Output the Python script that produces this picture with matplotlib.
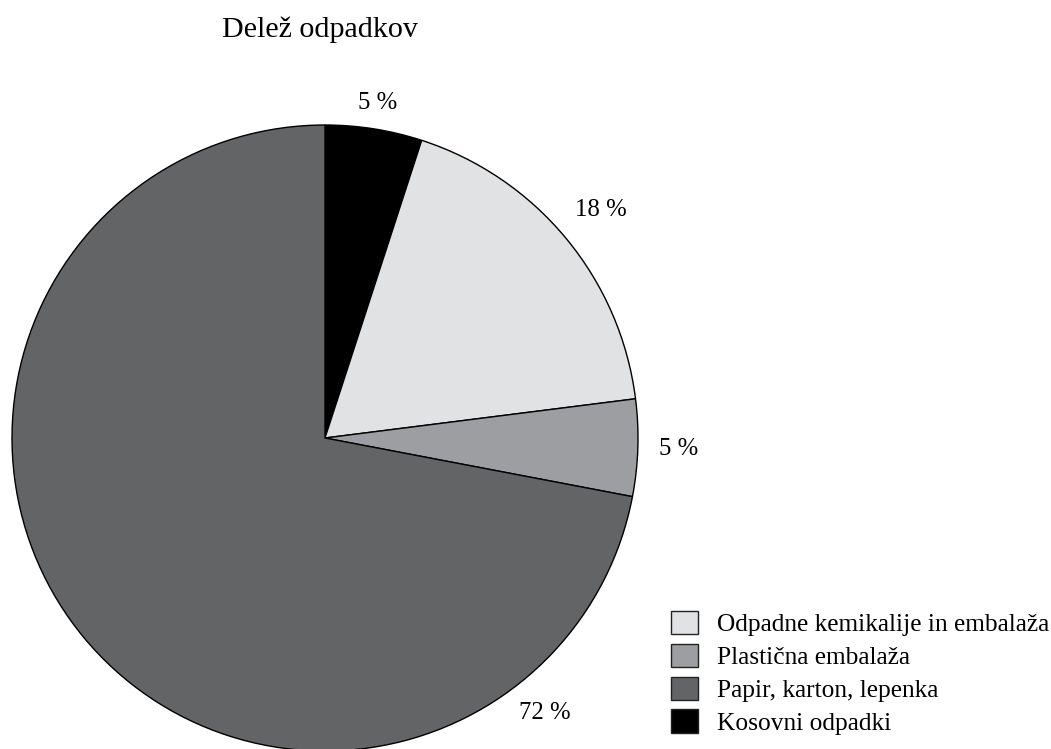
import numpy as np
import matplotlib.pyplot as plt
from matplotlib.patches import Patch

plt.rcParams['font.family'] = ['Liberation Serif', 'DejaVu Serif']

# podatki (v smeri urinega kazalca od vrha)
kategorije = ["Kosovni odpadki", "Odpadne kemikalije in embalaža",
              "Plastična embalaža", "Papir, karton, lepenka"]
delezi = [5, 18, 5, 72]
barve = ["#000000", "#e1e2e4", "#9d9ea1", "#636466"]
oznake = ["5 %", "18 %", "5 %", "72 %"]
# vrstni red v legendi
legenda_red = [1, 2, 3, 0]

W, H = 1051, 749
cx, cy, R = 325, 438, 313

fig = plt.figure(figsize=(W / 100, H / 100), dpi=100)
ax = fig.add_axes([0, 0, 1, 1])

wedges, _ = ax.pie(delezi, colors=barve, startangle=90, counterclock=False,
                   radius=1, center=(0, 0), frame=True,
                   wedgeprops=dict(edgecolor='black', linewidth=1.0))
ax.set_xlim(-cx / R, (W - cx) / R)
ax.set_ylim(-(H - cy) / R, cy / R)
ax.axis('off')

# kot oznake (stopinje od vrha, v smeri urinega kazalca)
kumul = np.cumsum([0] + delezi[:-1])
koti = [(k + d / 2) / 100 * 360 for k, d in zip(kumul, delezi)]
koti[3] = 141.3
razdalje = [1.083, 1.143, 1.13, 1.125]
for txt, kot, r in zip(oznake, koti, razdalje):
    a = np.deg2rad(kot)
    ax.text(r * np.sin(a), r * np.cos(a), txt, ha='center', va='center',
            fontsize=17.8)

ax.text(-5 / R, (cy - 30) / R, "Delež odpadkov", ha='center', va='center',
        fontsize=21.6)

handles = [Patch(facecolor=barve[i], edgecolor='#222222', linewidth=1.0)
           for i in legenda_red]
labels = [kategorije[i] for i in legenda_red]
fig.legend(handles, labels, loc='lower left', bbox_to_anchor=(671 / W, 14 / H),
           frameon=False, fontsize=18.3, handlelength=1.06, handleheight=1.06,
           handletextpad=0.75, labelspacing=0.29, borderpad=0, borderaxespad=0)

fig.savefig("out.png", dpi=100)
